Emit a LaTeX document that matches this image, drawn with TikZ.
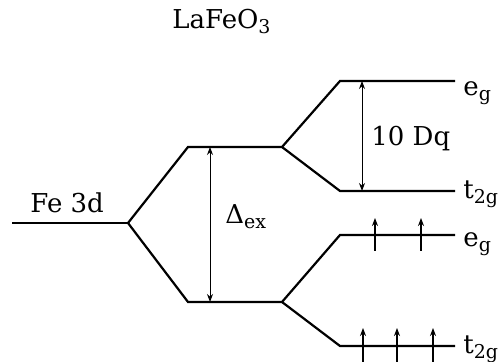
\documentclass[tikz,border=0pt]{standalone}
\usepackage{fontspec}
\setmainfont{DejaVu Serif}
\usepackage{tikz}
\usetikzlibrary{arrows.meta}
\tikzset{every node/.append style={font=\fontsize{13}{15}\selectfont,inner sep=0pt}}
\tikzset{level/.style={line width=1.1pt},gap/.style={<->,line width=.5pt},spin/.style={->,line width=.7pt}}
\newcommand{\sub}[1]{\raisebox{-.35ex}{\fontsize{9.5}{11}\selectfont #1}}

\begin{document}
\begin{tikzpicture}[>={Stealth[length=4pt,width=3pt]},x=.5pt,y=-.5pt]
\useasboundingbox (0,0) rectangle (499,362);
\coordinate (fe0) at (12,223); \coordinate (fe1) at (128,223);
\coordinate (up0) at (188,147); \coordinate (up1) at (282,147);
\coordinate (dn0) at (188,302); \coordinate (dn1) at (282,302);
\coordinate (ue0) at (340,81); \coordinate (ue1) at (455,81);
\coordinate (ut0) at (340,191); \coordinate (ut1) at (455,191);
\coordinate (de0) at (340,235); \coordinate (de1) at (455,235);
\coordinate (dt0) at (340,346); \coordinate (dt1) at (455,346);
% levels
\draw[level] (fe0)--(fe1);
\draw[level] (fe1)--(up0)--(up1)--(ue0)--(ue1);
\draw[level] (up1)--(ut0)--(ut1);
\draw[level] (fe1)--(dn0)--(dn1)--(de0)--(de1);
\draw[level] (dn1)--(dt0)--(dt1);
% splittings
\coordinate (exT) at (210,147); \coordinate (exB) at (210,302);
\coordinate (dqT) at (362,81); \coordinate (dqB) at (362,191);
\draw[gap] (exT)--(exB);
\draw[gap] (dqT)--(dqB);
% electrons
\foreach \x in {375,421} \draw[spin] (\x,251)--(\x,218);
\foreach \x in {363,397,433} \draw[spin] (\x,362)--(\x,328);
% labels
\node[anchor=base west] (title) at (172,29) {LaFeO\sub{3}};
\node[anchor=base west] (fe) at (30,213) {Fe 3d};
\node[anchor=base west] (ex) at (225,224) {Δ\sub{ex}};
\node[anchor=base west] (dq) at (371,146) {10 Dq};
\node[anchor=base west] (ueg) at (463,96) {e\sub{g}};
\node[anchor=base west] (ut2g) at (463,199) {t\sub{2g}};
\node[anchor=base west] (deg) at (463,247) {e\sub{g}};
\node[anchor=base west] (dt2g) at (463,354) {t\sub{2g}};
\end{tikzpicture}
\end{document}
